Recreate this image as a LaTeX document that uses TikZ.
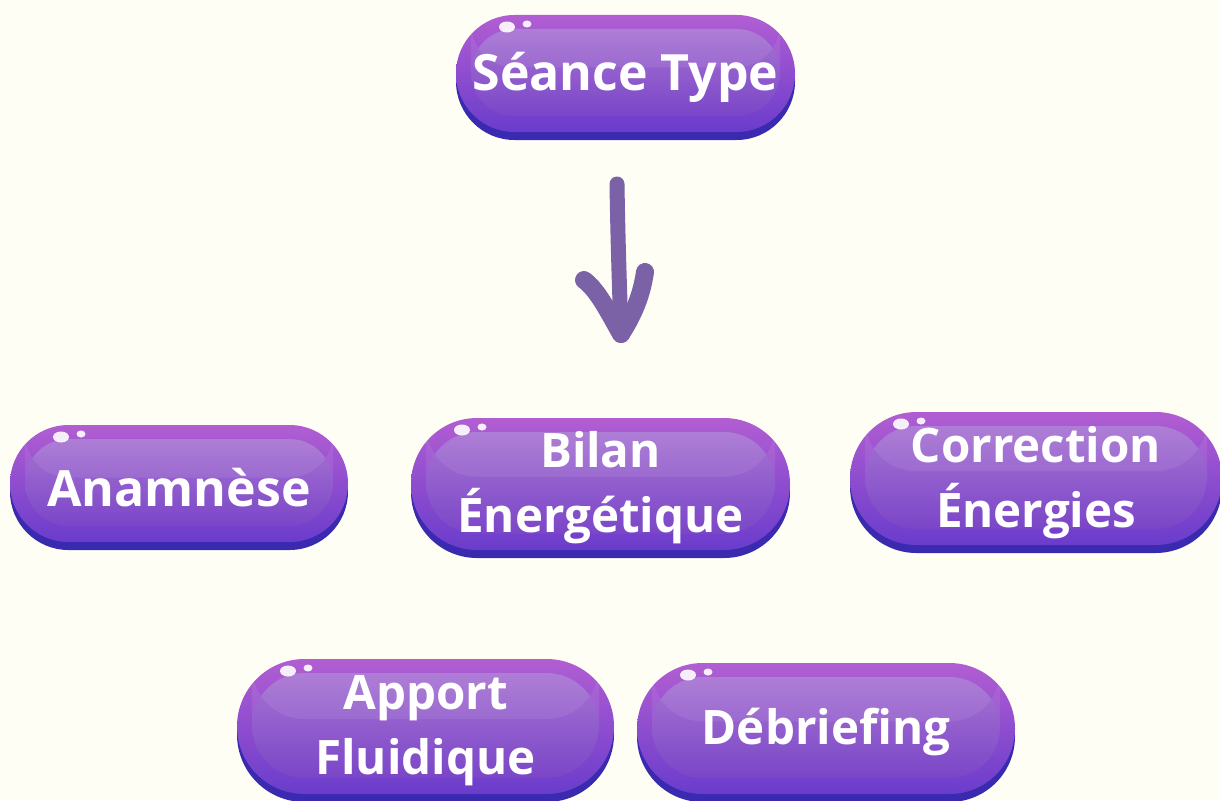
\documentclass[tikz,border=0pt]{standalone}
\usepackage{fontspec}
\setmainfont{Open Sans}
\definecolor{bgc}{HTML}{FEFEF4}
\definecolor{shadowc}{HTML}{3A2AB0}
\definecolor{ptop}{HTML}{B25ED2}
\definecolor{pbot}{HTML}{6A3CCC}
\definecolor{itop}{HTML}{A874D2}
\definecolor{ibot}{HTML}{7A46C8}
\definecolor{arrowc}{HTML}{7B62A6}
\tikzset{
  btntext/.style={text=white, align=center, inner sep=0pt},
  handarrow/.style={arrowc, line width=15pt, line cap=round, line join=round},
  handhead/.style={arrowc, line width=18pt, line cap=round, line join=round}
}
\newcommand\pbtn[7]{%
  \pgfmathsetmacro\rr{(#5-#3-8)/2}
  \pgfmathsetmacro\ri{(#5-#3-38)/2}
  \fill[shadowc, rounded corners=\rr pt] (#2,#3+8) rectangle (#4,#5);
  \shade[top color=ptop, bottom color=pbot, rounded corners=\rr pt] (#2,#3) rectangle (#4,#5-8);
  \shade[top color=itop, bottom color=ibot, rounded corners=\ri pt] (#2+15,#3+14) rectangle (#4-15,#5-24);
  \fill[white, opacity=0.07, rounded corners=\ri pt] (#2+15,#3+14) -- (#2+15,{#3+0.42*(#5-#3)}) -- (#4-15,{#3+0.42*(#5-#3)}) -- (#4-15,#3+14) -- cycle;
  \fill[white, opacity=0.9] (#2+51,#3+12) ellipse (8pt and 5.5pt);
  \fill[white, opacity=0.9] (#2+71,#3+9) ellipse (4.5pt and 3.5pt);
  \node[btntext, font=\bfseries\fontsize{#7}{65}\selectfont, minimum width=#4-#2, minimum height=#5-#3] (#1) at ({(#2+#4)/2},{(#3+#5)/2}) {#6};
}
\begin{document}
\begin{tikzpicture}[x=1pt, y=-1pt]
\fill[bgc] (0,0) rectangle (1220,800);
\useasboundingbox (0,0) rectangle (1220,800);
\pbtn{seance}{456}{15}{795}{140}{Séance Type}{50}
\pbtn{anam}{10}{425}{348}{550}{Anamnèse}{50}
\pbtn{bilan}{411}{418}{790}{558}{Bilan\\Énergétique}{47.5}
\pbtn{corr}{850}{412}{1222}{553}{Correction\\Énergies}{47.5}
\pbtn{apport}{237}{659}{614}{802}{Apport\\Fluidique}{47.5}
\pbtn{debrief}{637}{663}{1015}{802}{Débriefing}{47.5}
\coordinate (ashaft) at (617,184);
\coordinate (atip) at (621,334);
\coordinate (aleft) at (584,280);
\coordinate (aright) at (645,272);
\draw[handarrow] (ashaft) .. controls (618,250) and (620,300) .. (atip);
\draw[handhead] (aleft) .. controls (598,290) and (610,315) .. (atip);
\draw[handhead] (aright) .. controls (641,300) and (630,320) .. (atip);
\end{tikzpicture}
\end{document}
